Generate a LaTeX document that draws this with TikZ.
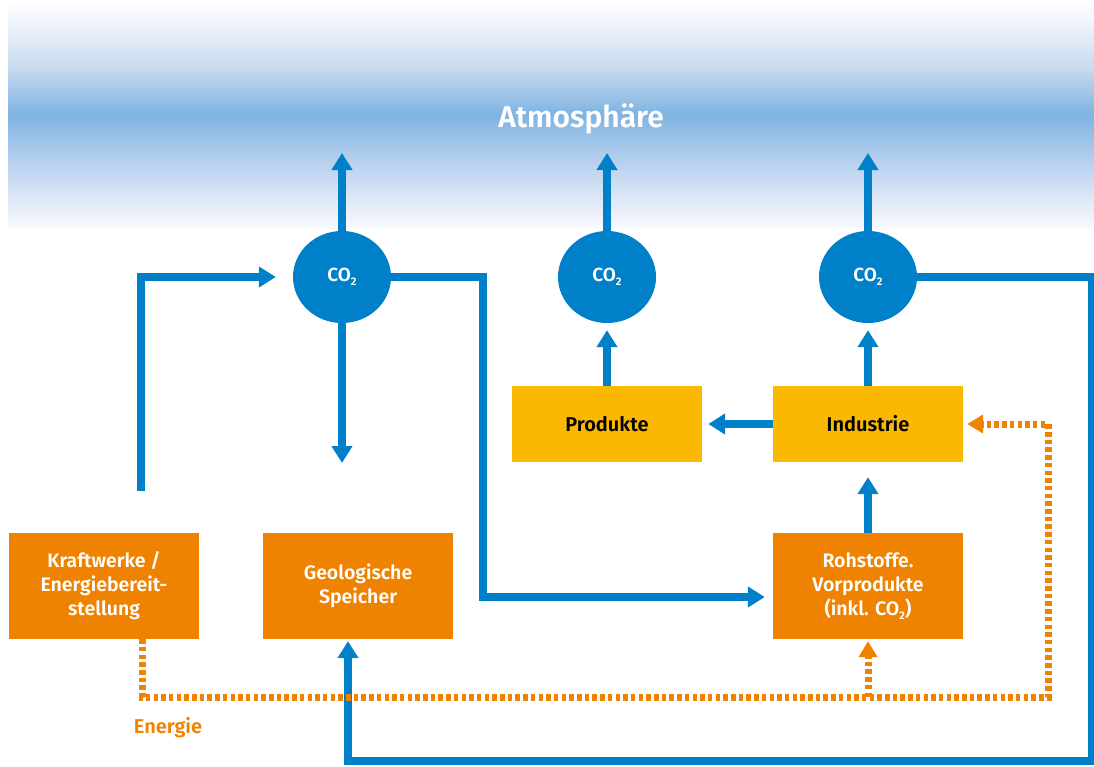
\documentclass[tikz,border=0pt]{standalone}
\usepackage{fontspec}
\setmainfont{Fira Sans}[BoldFont={Fira Sans SemiBold}]
\usetikzlibrary{arrows.meta,shapes.geometric}

\definecolor{flowblue}{HTML}{0080C9}
\definecolor{boxorange}{HTML}{EF8200}
\definecolor{boxyellow}{HTML}{FAB900}
\definecolor{atmA}{HTML}{FFFFFF}
\definecolor{atmB}{HTML}{F0F4FB}
\definecolor{atmC}{HTML}{C8DAF0}
\definecolor{atmD}{HTML}{7FB3E1}
\definecolor{atmE}{HTML}{B5CFEE}
\definecolor{atmF}{HTML}{E4ECF8}
\definecolor{atmG}{HTML}{F8FAFD}

% sky band: pale at the edges, strongest blue in the middle
\pgfdeclareverticalshading{atmosphere}{100bp}{%
  color(0bp)=(atmG); color(25bp)=(atmG); color(30bp)=(atmF);
  color(40bp)=(atmE); color(50bp)=(atmD); color(60bp)=(atmC);
  color(70bp)=(atmB); color(75bp)=(atmA); color(100bp)=(atmA)}

\newcommand{\cotwo}{CO\raisebox{-0.45ex}{\fontsize{11}{11}\selectfont 2}}

\begin{document}
\begin{tikzpicture}[x=1pt,y=-1pt,
  co2/.style={ellipse, fill=flowblue, minimum width=98pt, minimum height=92pt,
    inner sep=0pt, text=white, font=\bfseries\fontsize{19}{22}\selectfont},
  orangebox/.style={rectangle, fill=boxorange, minimum width=190pt, minimum height=106pt,
    inner sep=0pt, text=white, align=center, font=\bfseries\fontsize{19.5}{24}\selectfont},
  yellowbox/.style={rectangle, fill=boxyellow, minimum width=190pt, minimum height=76pt,
    inner sep=0pt, text=black, font=\bfseries\fontsize{20}{24}\selectfont},
  flowline/.style={draw=flowblue, line width=7.5pt},
  flow/.style={flowline, -{Triangle[length=17pt,width=20pt]}},
  energy/.style={draw=boxorange, line width=7pt, dash pattern=on 4.5pt off 3.2pt},
  energyarrow/.style={energy, -{Triangle[length=16pt,width=18pt]}}
]
\useasboundingbox (0,0) rectangle (1094,766);

% atmosphere band
\shade[shading=atmosphere] (8,0) rectangle (1094,228);
\node[text=white, font=\bfseries\fontsize{30}{34}\selectfont] (atm) at (581,119) {Atmosphäre};

% CO2 nodes
\node[co2] (c1) at (342,277) {\cotwo};
\node[co2] (c2) at (607,277) {\cotwo};
\node[co2] (c3) at (868,277) {\cotwo};

% boxes
\node[orangebox] (kw)  at (104,586) {Kraftwerke /\\Energiebereit-\\stellung};
\node[orangebox] (geo) at (358,586) {Geologische\\Speicher};
\node[orangebox] (roh) at (868,586) {Rohstoffe.\\Vorprodukte\\(inkl. \cotwo)};
\node[yellowbox] (ind)  at (868,424) {Industrie};
\node[yellowbox] (prod) at (607,424) {Produkte};

\node[text=boxorange, font=\bfseries\fontsize{20}{24}\selectfont] (en) at (168,728) {Energie};

% free ends
\coordinate (up1) at (342,153);
\coordinate (up2) at (607,153);
\coordinate (up3) at (868,153);
\coordinate (dn1) at (342,463);
\coordinate (kwout) at (141,491);

% emissions to the atmosphere
\draw[flow] (c1.north) -- (up1);
\draw[flow] (c2.north) -- (up2);
\draw[flow] (c3.north) -- (up3);

% CO2 flows
\draw[flow, shorten >=17pt] (kwout) |- (c1.west);
\draw[flow] (c1.south) -- (dn1);
\draw[flow] (c1.east) -- (483,277) |- ([yshift=-11pt, xshift=-8pt]roh.west);
\draw[flow] (c3.east) -- (1092,277) -- (1092,761) -- (348,761) -- ([xshift=-10pt, yshift=-2pt]geo.south);
\draw[flow, shorten >=6pt] (ind.west) -- (prod.east);
\draw[flow, shorten >=7pt] (prod.north) -- (c2.south);
\draw[flow, shorten >=7pt] (ind.north) -- (c3.south);
\draw[flow, shorten >=15pt] (roh.north) -- (ind.south);

% energy supply
\coordinate (ebranch) at (868,697);
\draw[energyarrow, shorten >=4pt] ([xshift=38pt]kw.south) -- (142,697) -| (1048,424) -- (ind.east);
\draw[energyarrow, shorten >=2pt] (ebranch) -- (roh.south);
\end{tikzpicture}
\end{document}
